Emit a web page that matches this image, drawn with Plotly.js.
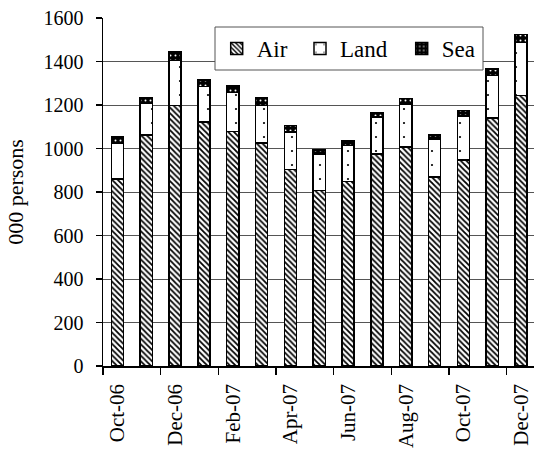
<!DOCTYPE html>
<html>
<head>
<meta charset="utf-8">
<script src="https://cdn.plot.ly/plotly-3.0.1.min.js"></script>
<style>
html,body{margin:0;padding:0;background:#fff;}
#chart{width:534px;height:452px;}
</style>
</head>
<body>
<div id="chart"></div>
<script>
const months = ["Oct-06","Nov-06","Dec-06","Jan-07","Feb-07","Mar-07","Apr-07","May-07","Jun-07","Jul-07","Aug-07","Sep-07","Oct-07","Nov-07","Dec-07"];
const air  = [860, 1061, 1198, 1121, 1078, 1026, 903, 808, 849, 974, 1008, 868, 948, 1141, 1244];
const land = [163, 145, 207, 163, 179, 172, 172, 164, 165, 172, 195, 173, 201, 195, 243];
const sea  = [31, 29, 41, 31, 30, 37, 31, 20, 21, 20, 26, 22, 26, 29, 38];

const xs = months.map((m, i) => i);
const tickIdx = xs.filter(i => i % 2 === 0);
const tickText = tickIdx.map(i => months[i]);

const FONT = "Liberation Serif, Times New Roman, serif";
const line = {color: "#000", width: 1.5};

const traces = [
  {type: "bar", name: "Air", x: xs, y: air, legend: "legend",
   marker: {color: "#fff", line: line,
     pattern: {shape: "\\", fgcolor: "#000", bgcolor: "#fff", size: 4, solidity: 0.45}}},
  {type: "bar", name: "Land", x: xs, y: land, legend: "legend2",
   marker: {color: "#fff", line: line,
     pattern: {shape: ".", fgcolor: "#000", bgcolor: "#fff", size: 14, solidity: 0.02}}},
  {type: "bar", name: "Sea", x: xs, y: sea, legend: "legend3",
   marker: {color: "#000", line: line,
     pattern: {shape: ".", fgcolor: "#fff", bgcolor: "#000", size: 5, solidity: 0.12}}}
];

// plot area in pixels: left 103, width 431, top 18, height 348
const px2x = p => (p - 103) / 431;
const py2y = p => (366 - p) / 348;
const legFont = {family: FONT, size: 23, color: "#000"};
const legBase = {orientation: "h", xanchor: "left", yanchor: "middle", y: py2y(48.5),
  bgcolor: "rgba(0,0,0,0)", borderwidth: 0, font: legFont};

const layout = {
  width: 534, height: 452,
  margin: {l: 103, r: 0, t: 18, b: 86},
  paper_bgcolor: "#fff", plot_bgcolor: "#fff",
  barmode: "stack", bargap: 0.58,
  font: {family: FONT, color: "#000", size: 20},
  showlegend: true,
  legend: Object.assign({}, legBase, {x: px2x(216.7)}),
  legend2: Object.assign({}, legBase, {x: px2x(300)}),
  legend3: Object.assign({}, legBase, {x: px2x(401.7)}),
  shapes: [{type: "rect", xref: "paper", yref: "paper", layer: "above",
    x0: px2x(215), x1: px2x(483), y0: py2y(70), y1: py2y(27),
    fillcolor: "#fff", line: {color: "#555", width: 1}}],
  xaxis: {range: [-0.5, 14.45], showgrid: false, zeroline: false,
    showline: true, linecolor: "#000", linewidth: 1.5,
    tickmode: "array", tickvals: tickIdx, ticktext: tickText,
    ticks: "", tickangle: -90, ticklabelstandoff: 8, ticklabeloverflow: "allow",
    tickfont: {family: FONT, size: 21, color: "#000"},
    minor: {tickmode: "linear", tick0: -0.5, dtick: 2, ticks: "outside", ticklen: 7, tickcolor: "#000", tickwidth: 1.5, showgrid: false}},
  yaxis: {range: [0, 1600], dtick: 200, tick0: 0,
    showgrid: true, gridcolor: "#555", gridwidth: 1,
    zeroline: false, showline: true, linecolor: "#000", linewidth: 1.5,
    ticks: "outside", ticklen: 6, tickcolor: "#000", tickwidth: 1.5,
    ticklabelstandoff: 8,
    tickfont: {family: FONT, size: 20, color: "#000"},
    title: {text: "000 persons", standoff: 14, font: {family: FONT, size: 22, color: "#000"}}}
};

Plotly.newPlot("chart", traces, layout, {staticPlot: true, displayModeBar: false});
</script>
</body>
</html>
